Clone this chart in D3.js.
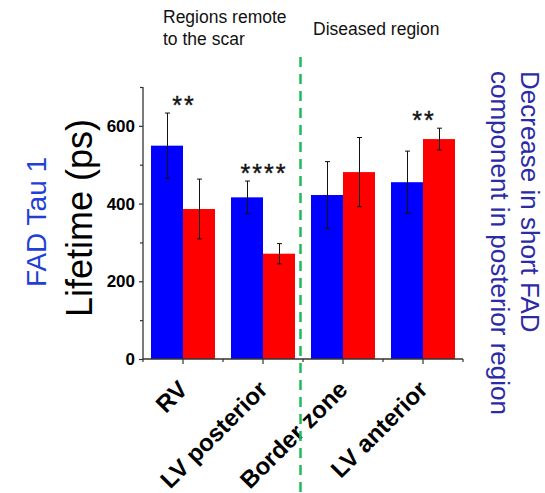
<!DOCTYPE html>
<html>
<head>
<meta charset="utf-8">
<script src="https://cdn.jsdelivr.net/npm/d3@7"></script>
<style>
  html, body { margin: 0; padding: 0; background: #fff; }
  svg { display: block; font-family: Arial, "Liberation Sans", sans-serif; }
</style>
</head>
<body>
<svg id="chart" width="545" height="493"></svg>
<script>
// ---- data ----
const categories = ["RV", "LV posterior", "Border zone", "LV anterior"];
const series = ["blue", "red"];
const blueValues = [549, 416, 422, 455];
const blueErrors = [84, 42, 86, 80];
const redValues  = [386, 271, 481, 566];
const redErrors  = [77, 26, 89, 28];
const significance = ["**", "****", "", "**"];
const sigOnSeries  = [0, 0, 0, 1];
const yTicks = [0, 200, 400, 600];
const yMinorTicks = [100, 300, 500, 700];

// ---- layout ----
const svg = d3.select("#chart");
const x0 = 143, x1 = 463, yBase = 359, yTop = 87;
const x = d3.scaleBand().domain(categories).range([x0, x1]).padding(0);
const y = d3.scaleLinear().domain([0, 700]).range([yBase, yTop]);
const barW = x.bandwidth() * 0.4;
const colors = { blue: "#0000ff", red: "#ff0000" };
const axisColor = "#333";

const data = [];
categories.forEach((c, i) => {
  data.push({ cat: c, s: 0, v: blueValues[i], e: blueErrors[i] });
  data.push({ cat: c, s: 1, v: redValues[i], e: redErrors[i] });
});
const cx = d => x(d.cat) + x.bandwidth() / 2 + (d.s === 0 ? -barW / 2 : barW / 2);

// bars
svg.append("g").selectAll("rect").data(data).join("rect")
  .attr("x", d => cx(d) - barW / 2)
  .attr("y", d => y(d.v))
  .attr("width", barW)
  .attr("height", d => yBase - y(d.v))
  .attr("fill", d => colors[series[d.s]]);

// error bars
const eg = svg.append("g").attr("stroke", "#111").attr("stroke-width", 1);
data.forEach(d => {
  const xc = Math.round(cx(d)) + 0.5;
  eg.append("line").attr("x1", xc).attr("x2", xc).attr("y1", y(d.v + d.e)).attr("y2", y(d.v - d.e));
  eg.append("line").attr("x1", xc - 2.5).attr("x2", xc + 2.5).attr("y1", y(d.v + d.e)).attr("y2", y(d.v + d.e));
  eg.append("line").attr("x1", xc - 2.5).attr("x2", xc + 2.5).attr("y1", y(d.v - d.e)).attr("y2", y(d.v - d.e));
});

// y axis
const yAxis = d3.axisLeft(y).tickValues(yTicks).tickSize(4).tickPadding(4).tickFormat(d3.format("d"));
const gy = svg.append("g").attr("transform", `translate(${x0},0)`).call(yAxis);
gy.select(".domain").attr("d", `M0,${yTop}V${yBase}`).attr("stroke", axisColor).attr("stroke-width", 1.3);
gy.selectAll(".tick line").attr("stroke", axisColor).attr("stroke-width", 1.2);
gy.selectAll(".tick text").attr("font-size", 17).attr("font-weight", "bold").attr("fill", "#000")
  .attr("font-family", "Arial, 'Liberation Sans', sans-serif");
const gyMinor = svg.append("g").attr("transform", `translate(${x0},0)`)
  .call(d3.axisLeft(y).tickValues(yMinorTicks).tickSize(3).tickFormat(""));
gyMinor.select(".domain").remove();
gyMinor.selectAll(".tick line").attr("stroke", axisColor).attr("stroke-width", 1.2);

// x axis
const xAxis = d3.axisBottom(x).tickSize(5).tickFormat("");
const gx = svg.append("g").attr("transform", `translate(0,${yBase})`).call(xAxis);
gx.select(".domain").attr("d", `M${x0},0H${x1}`).attr("stroke", axisColor).attr("stroke-width", 1.3);
gx.selectAll(".tick line").attr("stroke", axisColor).attr("stroke-width", 1.2);
const boundaries = categories.map(c => x(c)).concat([x1]);
svg.append("g").selectAll("line").data(boundaries).join("line")
  .attr("x1", d => d).attr("x2", d => d).attr("y1", yBase).attr("y2", yBase + 3)
  .attr("stroke", axisColor).attr("stroke-width", 1.2);

// x labels
svg.append("g").selectAll("text").data(categories).join("text")
  .attr("transform", c => `translate(${x(c) + x.bandwidth() / 2 + 6},${yBase + 32}) rotate(-45)`)
  .attr("text-anchor", "end")
  .attr("font-size", 24).attr("font-weight", "bold").attr("fill", "#000")
  .text(c => c);

// significance stars
svg.append("g").selectAll("text").data(categories).join("text")
  .attr("x", (c, i) => x(c) + x.bandwidth() / 2 + 1)
  .attr("y", (c, i) => {
    const v = sigOnSeries[i] === 0 ? blueValues[i] + blueErrors[i] : redValues[i] + redErrors[i];
    return y(v) + 1;
  })
  .attr("text-anchor", "middle")
  .attr("font-size", 25).attr("letter-spacing", 2).attr("fill", "#111")
  .attr("stroke", "#111").attr("stroke-width", 0.4)
  .text((c, i) => significance[i]);

// dashed separator
const sepX = x(categories[2]) - 2.5;
svg.append("line").attr("x1", sepX).attr("x2", sepX).attr("y1", 57).attr("y2", 493)
  .attr("stroke", "#1fba5a").attr("stroke-width", 2.5).attr("stroke-dasharray", "10,7");

// region labels
const rl = svg.append("text").attr("font-size", 17.5).attr("fill", "#111");
rl.append("tspan").attr("x", 163).attr("y", 23).text("Regions remote");
rl.append("tspan").attr("x", 163).attr("y", 45).text("to the scar");
svg.append("text").attr("x", 313).attr("y", 35).attr("font-size", 17.5).attr("fill", "#111").text("Diseased region");

// y titles
svg.append("text").attr("transform", "translate(92,218) rotate(-90)")
  .attr("text-anchor", "middle").attr("font-size", 36).attr("fill", "#000").text("Lifetime (ps)");
svg.append("text").attr("transform", "translate(46,222) rotate(-90)")
  .attr("text-anchor", "middle").attr("font-size", 28).attr("fill", "#1f3fd6").text("FAD Tau 1");

// right title
const rt = svg.append("g").attr("fill", "#2b2ba6").attr("font-size", 26);
rt.append("text").attr("transform", "translate(521,71) rotate(90)").text("Decrease in short FAD");
rt.append("text").attr("transform", "translate(491,71) rotate(90)").text("component in posterior region");
</script>
</body>
</html>
